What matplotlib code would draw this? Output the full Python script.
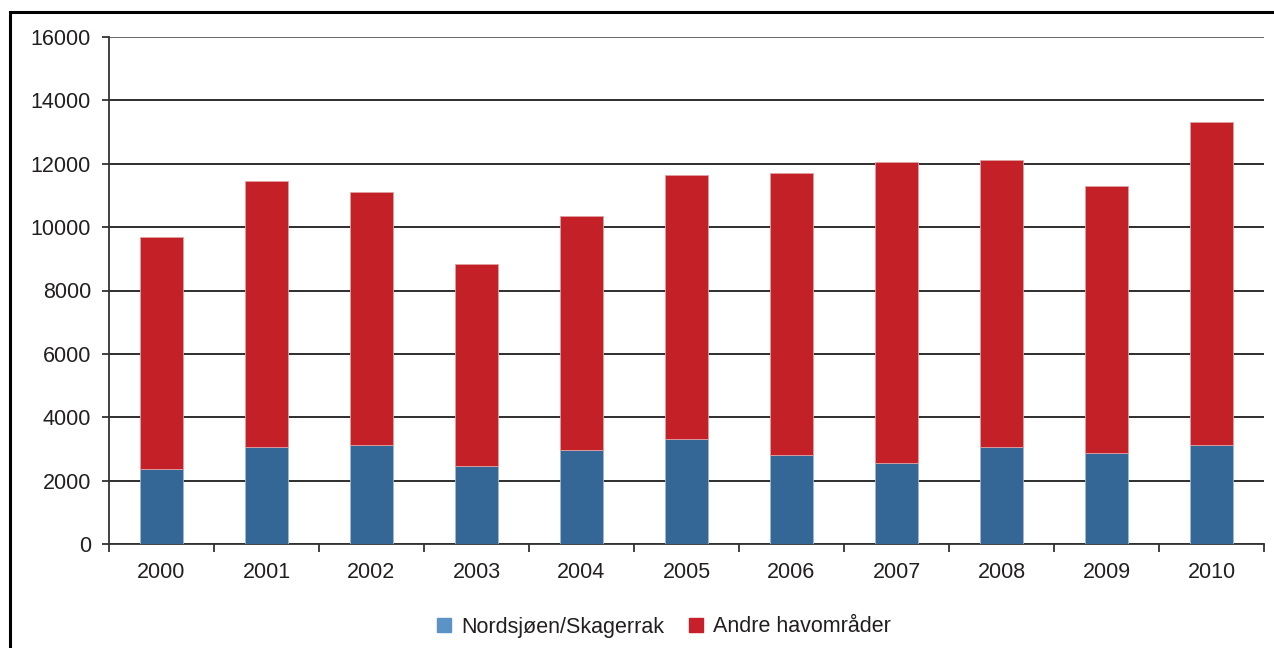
import matplotlib
matplotlib.use("Agg")
import matplotlib.pyplot as plt
from matplotlib.lines import Line2D
from matplotlib.patches import Rectangle
import numpy as np

plt.rcParams['font.family'] = ['Liberation Sans', 'DejaVu Sans']

years = ['2000', '2001', '2002', '2003', '2004', '2005',
         '2006', '2007', '2008', '2009', '2010']
nordsjoen = [2360, 3050, 3120, 2450, 2960, 3300, 2800, 2550, 3050, 2870, 3110]
totals = [9690, 11450, 11120, 8850, 10360, 11630, 11710, 12040, 12130, 11290, 13310]
andre = [t - n for t, n in zip(totals, nordsjoen)]

series_labels = ['Nordsjøen/Skagerrak', 'Andre havområder']
bar_blue = '#356796'
bar_red = '#c32027'
legend_blue = '#5b93c7'
legend_red = '#c8202a'

W, H = 1274, 648
fig = plt.figure(figsize=(W / 100, H / 100), dpi=100)

# outer frame (left and top edges visible)
fig.patches.append(Rectangle((10 / W, -0.1), 2.0, 1 - 12 / H + 0.1,
                             transform=fig.transFigure, fill=False,
                             edgecolor='black', linewidth=2.2))

ax = fig.add_axes([109 / W, 1 - 544 / H, (1264 - 109) / W, (544 - 37) / H])

x = np.arange(len(years))
width = 0.41
ax.bar(x, nordsjoen, width, color=bar_blue, edgecolor='#9fb8d2', linewidth=0.6, zorder=3)
ax.bar(x, andre, width, bottom=nordsjoen, color=bar_red, edgecolor='#e0a0a3',
       linewidth=0.6, zorder=3)

ax.set_xlim(-0.5, len(years) - 0.5)
ax.set_ylim(0, 16000)
ax.set_yticks(np.arange(0, 16001, 2000))
ax.yaxis.grid(True, color='#2e2e2e', linewidth=1.4, zorder=1)
ax.set_axisbelow(True)
ax.get_ygridlines()[-1].set_color('#666666')

ax.set_xticks(np.arange(-0.5, len(years), 1.0))
ax.set_xticklabels([])
ax.set_xticks(x, minor=True)
ax.set_xticklabels(years, minor=True)
ax.tick_params(axis='x', which='major', length=6, width=1.3, color='#333333', direction='out')
ax.tick_params(axis='x', which='minor', length=0, pad=13, labelsize=15.5, labelcolor='#231f20')
ax.tick_params(axis='y', length=5, width=1.3, color='#333333', pad=8, labelsize=15.5,
               labelcolor='#231f20')

for side in ['top', 'right']:
    ax.spines[side].set_visible(False)
for side in ['left', 'bottom']:
    ax.spines[side].set_color('#333333')
    ax.spines[side].set_linewidth(1.3)

handles = [
    Line2D([], [], linestyle='none', marker='s', markersize=10,
           markerfacecolor=legend_blue, markeredgecolor=legend_blue),
    Line2D([], [], linestyle='none', marker='s', markersize=10,
           markerfacecolor=legend_red, markeredgecolor=legend_red),
]
fig.legend(handles, series_labels, loc='center', ncol=2, frameon=False,
           bbox_to_anchor=(662 / W, 1 - 627 / H), fontsize=15.5,
           handlelength=1.0, handletextpad=0.3, columnspacing=1.0,
           labelcolor='#231f20')

fig.savefig('out.png', dpi=100)
